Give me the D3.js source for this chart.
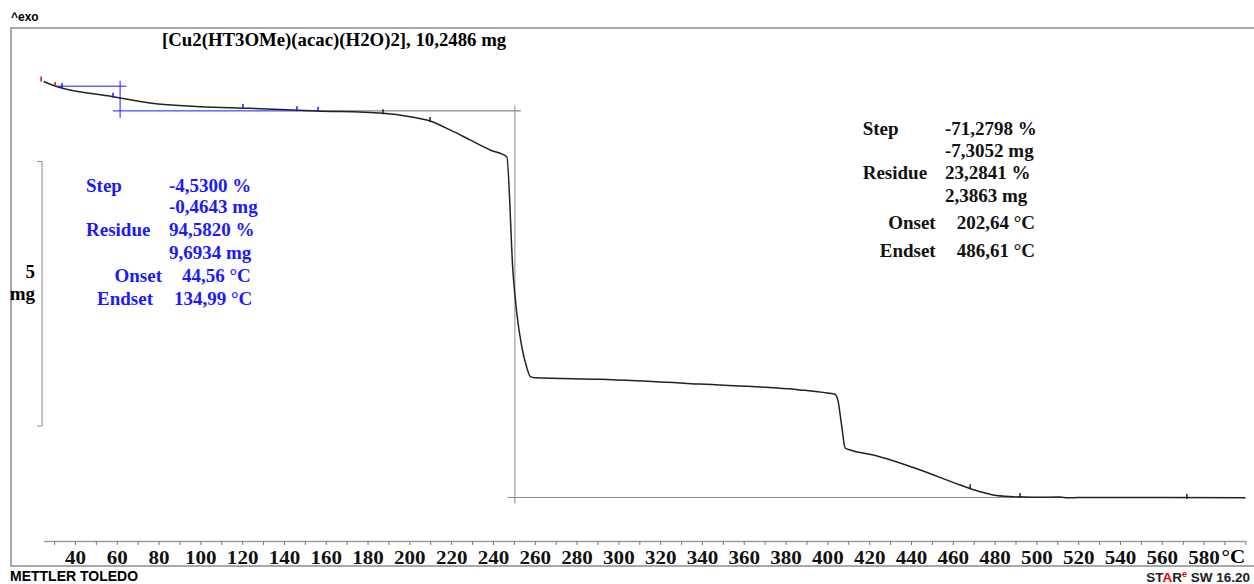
<!DOCTYPE html>
<html lang="en">
<head>
	<meta charset="UTF-8">
	<script src="https://d3js.org/d3.v7.min.js"></script>
	<title>TGA Cu2(HT3OMe)(acac)(H2O)2</title>
	<style>
		body {
			margin: 0;
			background: #fff;
		}
		svg {
			display: block;
		}
		.serif {
			font-family: "Liberation Serif", "Times New Roman", serif;
			font-weight: bold;
		}
		.sans {
			font-family: "Liberation Sans", Arial, sans-serif;
			font-weight: bold;
		}
	</style>
</head>
<body>
	<svg width="1254" height="584"></svg>

	<script>
		// temperature (°C) and sample mass (mg)
		const temps = [25, 30.5, 58.2, 75.9, 99.8, 123.7, 155.7, 187.3, 200.3, 209.9, 219.5, 229, 238.6, 246.6,
			249.6, 251.4, 253.8, 256.1, 257.9, 260.1, 291.2, 339, 386.9, 400, 403.6,
			405.0, 406.9, 408.5, 410.9, 422.0, 444.4, 463.5, 473.1, 479.3, 488.9, 498.4, 511.3, 515, 520, 540, 600];
		const masses = [10.2486, 10.164, 9.961, 9.842, 9.773, 9.742, 9.692, 9.648, 9.584, 9.502, 9.333, 9.144, 8.955, 8.827,
			6.629, 5.873, 5.231, 4.853, 4.670, 4.651, 4.620, 4.530, 4.420, 4.360, 4.337,
			4.229, 3.724, 3.322, 3.284, 3.190, 2.906, 2.623, 2.496, 2.434, 2.401, 2.390, 2.395, 2.380, 2.385, 2.3863, 2.380];

		const sampleMass = 10.2486;
		const finalMass = 2.3863;
		const step1Residue = 9.6934;

		// evaluation marks along the curve
		const redMarks = [23.8, 30.5];
		const blueMarks = [33.8, 58.2, 120.4, 146.2, 156.3];
		const blackMarks = [187.4, 209.9, 468.3, 492.2, 572];

		const xTicks = d3.range(30, 601, 10);
		const xLabels = d3.range(40, 581, 20);

		const step1Text = [
			['Step', '-4,5300 %'],
			['', '-0,4643 mg'],
			['Residue', '94,5820 %'],
			['', '9,6934 mg'],
			['Onset', '44,56 °C'],
			['Endset', '134,99 °C']
		];
		const step2Text = [
			['Step', '-71,2798 %'],
			['', '-7,3052 mg'],
			['Residue', '23,2841 %'],
			['', '2,3863 mg'],
			['Onset', '202,64 °C'],
			['Endset', '486,61 °C']
		];

		const svg = d3.select('svg');
		const x = d3.scaleLinear().domain([25, 600]).range([43.6, 1245.4]);
		const y = d3.scaleLinear().domain([finalMass, sampleMass]).range([497.5, 81.5]);

		const data = temps.map((t, i) => ({ t: t, m: masses[i] }));

		// frame
		svg.append('rect')
			.attr('x', 11).attr('y', 28)
			.attr('width', 1260).attr('height', 538)
			.attr('fill', 'none')
			.attr('stroke', '#a8a8a8')
			.attr('stroke-width', 2);

		svg.append('text').attr('class', 'sans')
			.attr('x', 11).attr('y', 21)
			.style('font-size', '12px')
			.text('^exo');

		svg.append('text').attr('class', 'serif')
			.attr('x', 162).attr('y', 46)
			.style('font-size', '18.8px')
			.text('[Cu2(HT3OMe)(acac)(H2O)2], 10,2486 mg');

		// step evaluation lines
		const blue = '#1a1aff';
		const line = (g, x1, m1, x2, m2, color) => g.append('line')
			.attr('x1', x(x1)).attr('y1', y(m1))
			.attr('x2', x(x2)).attr('y2', y(m2))
			.attr('stroke', color).attr('stroke-width', 1);

		const evalG = svg.append('g');
		line(evalG, 156, step1Residue, 253.3, step1Residue, '#6e6e6e');
		line(evalG, 250.5, 9.80, 250.5, 2.27, '#8a8a8a');
		line(evalG, 247, finalMass, 600, finalMass, '#8a8a8a');
		line(evalG, 31.5, 10.16, 64.6, 10.16, blue);
		line(evalG, 61.6, 10.26, 61.6, 9.56, blue);
		line(evalG, 58.2, step1Residue, 156, step1Residue, blue);

		// curve
		svg.append('path')
			.datum(data)
			.attr('fill', 'none')
			.attr('stroke', '#222')
			.attr('stroke-width', 1.5)
			.attr('stroke-linejoin', 'round')
			.attr('d', d3.line().curve(d3.curveMonotoneX).x(d => x(d.t)).y(d => y(d.m)));

		const massAt = t => {
			const i = Math.max(1, d3.bisector(d => d.t).left(data, t));
			const a = data[i - 1], b = data[Math.min(i, data.length - 1)];
			const k = b.t === a.t ? 0 : (t - a.t) / (b.t - a.t);
			return a.m + k * (b.m - a.m);
		};
		const marks = (list, color) => svg.append('g')
			.selectAll('line')
			.data(list)
			.enter()
			.append('line')
			.attr('x1', d => x(d)).attr('x2', d => x(d))
			.attr('y1', d => y(massAt(d)) - 4).attr('y2', d => y(massAt(d)) + 1)
			.attr('stroke', color)
			.attr('stroke-width', 1.5);
		marks(redMarks, '#e00');
		marks(blueMarks, blue);
		marks(blackMarks, '#222');

		// 5 mg scale bar
		const barBase = 3.737;
		const barG = svg.append('g').attr('stroke', '#8a8a8a').attr('fill', 'none');
		barG.append('path')
			.attr('d', `M37,${y(barBase + 5)}H42V${y(barBase)}H37`);
		svg.append('text').attr('class', 'serif')
			.attr('x', 35).attr('y', 278)
			.attr('text-anchor', 'end')
			.style('font-size', '19px')
			.text('5');
		svg.append('text').attr('class', 'serif')
			.attr('x', 35).attr('y', 300)
			.attr('text-anchor', 'end')
			.style('font-size', '19px')
			.text('mg');

		// result blocks
		const block = (rows, color, labelX, valueX, top, lineH, indent) => {
			const g = svg.append('g').attr('class', 'serif').style('font-size', '19px').attr('fill', color);
			let yy = top;
			rows.forEach((r, i) => {
				yy += lineH[i];
				if (r[0]) {
					g.append('text')
						.attr('x', indent[i] !== undefined ? indent[i] : labelX)
						.attr('y', yy)
						.attr('text-anchor', indent[i] !== undefined ? 'end' : 'start')
						.text(r[0]);
				}
				g.append('text')
					.attr('x', valueX[i])
					.attr('y', yy)
					.text(r[1]);
			});
		};
		block(step1Text, blue, 86, [169, 169, 169, 169, 182, 174], 191.7,
			[0, 21.3, 23.4, 22.3, 23.7, 23], [undefined, undefined, undefined, undefined, 162, 153]);
		block(step2Text, '#111', 862.7, [945, 945, 945, 945, 956.7, 956.7], 135,
			[0, 21.7, 22.3, 22.7, 27.3, 27.7], [undefined, undefined, undefined, undefined, 935.7, 935.7]);

		// x axis
		const axis = svg.append('g')
			.attr('transform', 'translate(0,541)')
			.call(d3.axisBottom(x)
				.tickValues(xTicks)
				.tickSize(4)
				.tickSizeOuter(0)
				.tickFormat(d => xLabels.includes(d) ? d : ''));
		axis.select('.domain').attr('stroke', '#9a9a9a').attr('stroke-width', 1.5);
		axis.selectAll('.tick line').attr('stroke', '#777');
		axis.selectAll('.tick text')
			.attr('class', 'serif')
			.attr('y', 0).attr('dy', null)
			.attr('transform', 'translate(0,22.5) scale(1.17,1)')
			.attr('fill', '#111')
			.style('font-size', '18px');
		svg.append('text').attr('class', 'serif')
			.attr('x', x(580) + 18).attr('y', 563.5)
			.attr('transform', `translate(${x(580) + 18},0) scale(1.17,1) translate(${-(x(580) + 18)},0)`)
			.style('font-size', '18px')
			.text('°C');

		// footer
		svg.append('text').attr('class', 'sans')
			.attr('x', 10).attr('y', 581)
			.style('font-size', '14px')
			.text('METTLER TOLEDO');
		const star = svg.append('text').attr('class', 'sans')
			.attr('x', 1250).attr('y', 582)
			.attr('text-anchor', 'end')
			.style('font-size', '13.5px')
			.attr('fill', '#222');
		star.append('tspan').text('ST');
		star.append('tspan').attr('fill', '#e00').text('A');
		star.append('tspan').text('R');
		star.append('tspan').attr('fill', '#e00').attr('dy', -5).style('font-size', '9px').text('e');
		star.append('tspan').attr('dy', 5).text(' SW 16.20');
	</script>
</body>
</html>
